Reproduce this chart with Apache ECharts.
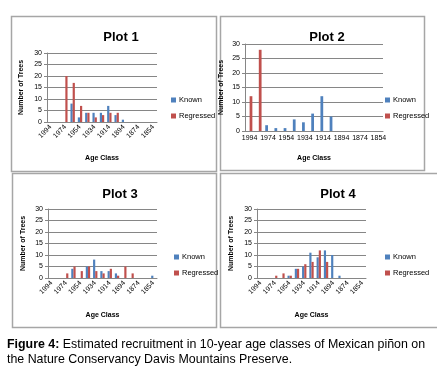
<!DOCTYPE html>
<html lang="en">
<head>
    <meta charset="UTF-8">
    <title>Figure 4 - Mexican piñon recruitment</title>
    <script src="https://cdn.jsdelivr.net/npm/echarts/dist/echarts.min.js"></script>
    <style>
        body { margin: 0; background: #fff; }
        #chart { position: absolute; left: 0; top: 0; width: 437px; height: 375px; }
        .caption {
            position: absolute;
            left: 7px;
            top: 337px;
            font-family: "Liberation Sans", Arial, sans-serif;
            font-size: 12.4px;
            line-height: 15px;
            color: #000;
            white-space: nowrap;
        }
    </style>
</head>
<body>
    <div id="chart"></div>
    <div class="caption"><b>Figure 4:</b> Estimated recruitment in 10-year age classes of Mexican piñon on<br>the Nature Conservancy Davis Mountains Preserve.</div>

    <script>
        var ageClasses = ['1994', '1984', '1974', '1964', '1954', '1944', '1934', '1924',
                          '1914', '1904', '1894', '1884', '1874', '1864', '1854'];
        var yTicks = [0, 5, 10, 15, 20, 25, 30];

        var plot1Known     = [0, 0, 0, 8, 2, 4, 4, 4, 7, 3, 1, 0, 0, 0, 0];
        var plot1Regressed = [0, 0, 20, 17, 7, 4, 2, 3, 4, 4, 0, 0, 0, 0, 0];
        var plot2Known     = [0, 0, 2, 1, 1, 4, 3, 6, 12, 5, 0, 0, 0, 0, 0];
        var plot2Regressed = [12, 28, 0, 0, 0, 0, 0, 0, 0, 0, 0, 0, 0, 0, 0];
        var plot3Known     = [0, 0, 0, 4, 0, 5, 8, 3, 3, 2, 0, 0, 0, 0, 1];
        var plot3Regressed = [0, 0, 2, 5, 3, 5, 3, 2, 4, 1, 5, 2, 0, 0, 0];
        var plot4Known     = [0, 0, 0, 0, 1, 4, 5, 11, 9, 12, 10, 1, 0, 0, 0];
        var plot4Regressed = [0, 0, 1, 2, 1, 4, 6, 7, 12, 7, 0, 0, 0, 0, 0];

        var font = '"Liberation Sans", Arial, sans-serif';
        var blue = '#4F81BD', red = '#C0504D', axisGray = '#868686';

        // panel layout: box, grid, title, legend, axis name gaps
        var panels = [
            { title: 'Plot 1', known: plot1Known, regressed: plot1Regressed,
              box: [11, 16, 205, 155], grid: [47, 53, 157, 122], titleX: 116, titleY: 26,
              legend: [171, 96], yGap: 22, xGap: 33, rotate: 45 },
            { title: 'Plot 2', known: plot2Known, regressed: plot2Regressed,
              box: [220, 16, 204, 154], grid: [245, 44, 383, 131], titleX: 322, titleY: 26,
              legend: [385, 96], yGap: 20, xGap: 24, rotate: 0 },
            { title: 'Plot 3', known: plot3Known, regressed: plot3Regressed,
              box: [12, 173, 204, 154], grid: [48, 209, 157, 278], titleX: 115, titleY: 183,
              legend: [174, 253], yGap: 21, xGap: 34, rotate: 45 },
            { title: 'Plot 4', known: plot4Known, regressed: plot4Regressed,
              box: [220, 173, 220, 154], grid: [257, 209, 366, 278], titleX: 333, titleY: 183,
              legend: [385, 253], yGap: 22, xGap: 34, rotate: 45 }
        ];

        var titles = [], grids = [], xAxes = [], yAxes = [], series = [], legends = [], graphics = [];

        panels.forEach(function (p, i) {
            graphics.push({
                type: 'rect', silent: true,
                shape: { x: p.box[0] + 0.5, y: p.box[1] + 0.5, width: p.box[2], height: p.box[3] },
                style: { fill: null, stroke: '#a6a6a6', lineWidth: 1.5 }
            });
            titles.push({
                text: p.title, left: p.titleX, top: p.titleY, textAlign: 'center',
                textStyle: { fontFamily: font, fontSize: 13, fontWeight: 'bold', color: '#000' }
            });
            grids.push({
                left: p.grid[0], top: p.grid[1],
                width: p.grid[2] - p.grid[0], height: p.grid[3] - p.grid[1],
                containLabel: false
            });
            xAxes.push({
                type: 'category', gridIndex: i, data: ageClasses,
                name: 'Age Class', nameLocation: 'middle', nameGap: p.xGap,
                nameTextStyle: { fontFamily: font, fontSize: 7, fontWeight: 'bold', color: '#000' },
                axisLine: { lineStyle: { color: axisGray } },
                axisTick: { interval: 0, length: 3, lineStyle: { color: axisGray } },
                axisLabel: { interval: 1, rotate: p.rotate, margin: 4,
                             fontFamily: font, fontSize: 7, color: '#000' }
            });
            yAxes.push({
                type: 'value', gridIndex: i, min: 0, max: 30, interval: 5,
                name: 'Number of Trees', nameLocation: 'middle', nameGap: p.yGap,
                nameTextStyle: { fontFamily: font, fontSize: 7, fontWeight: 'bold', color: '#000' },
                axisLine: { show: true, lineStyle: { color: axisGray } },
                axisTick: { show: true, length: 3, lineStyle: { color: axisGray } },
                axisLabel: { margin: 5, fontFamily: font, fontSize: 7, color: '#000' },
                splitLine: { lineStyle: { color: axisGray, width: 1 } }
            });
            series.push({
                name: 'Known', type: 'bar', xAxisIndex: i, yAxisIndex: i,
                data: p.known, itemStyle: { color: blue },
                barGap: '0%', barCategoryGap: '40%'
            });
            series.push({
                name: 'Regressed', type: 'bar', xAxisIndex: i, yAxisIndex: i,
                data: p.regressed, itemStyle: { color: red },
                barGap: '0%', barCategoryGap: '40%'
            });
            legends.push({
                left: p.legend[0], top: p.legend[1], orient: 'vertical',
                data: ['Known', 'Regressed'], itemWidth: 5, itemHeight: 5, itemGap: 8,
                icon: 'rect', selectedMode: false, padding: 0,
                textStyle: { fontFamily: font, fontSize: 7.5, color: '#000', padding: [0, 0, 0, -2] }
            });
        });

        var chart = echarts.init(document.getElementById('chart'));
        chart.setOption({
            animation: false,
            title: titles,
            grid: grids,
            xAxis: xAxes,
            yAxis: yAxes,
            legend: legends,
            series: series,
            graphic: graphics
        });
    </script>
</body>
</html>
